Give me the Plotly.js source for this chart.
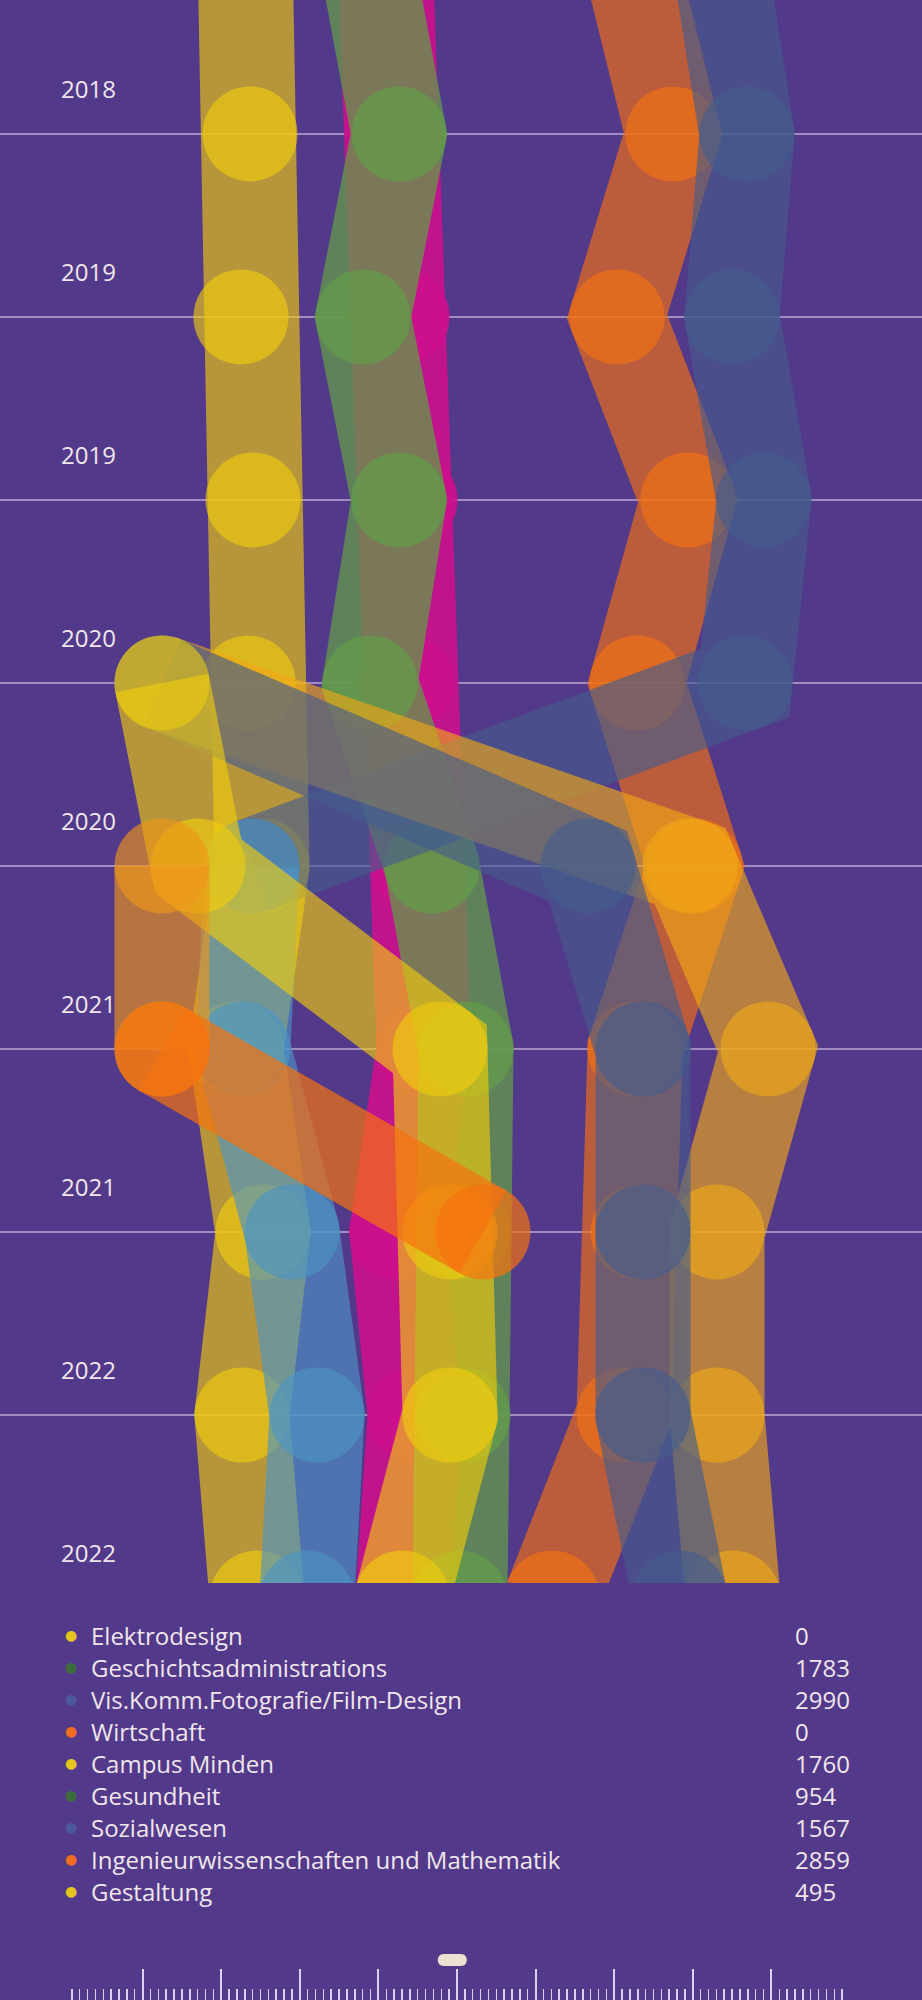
<!DOCTYPE html>
<html>
<head>
<meta charset="utf-8">
<script src="https://cdn.plot.ly/plotly-3.0.1.min.js"></script>
<style>
  html, body { margin: 0; padding: 0; background: #53398a; }
  #chart { width: 922px; height: 2000px; }
</style>
</head>
<body>
<div id="chart"></div>
<script>
// row labels (one per grid line), row 0 sits just above the top edge
var rowLabels = ['2018', '2019', '2019', '2020', '2020', '2021', '2021', '2022', '2022']
var rowIndex = [1, 2, 3, 4, 5, 6, 7, 8, 9]

// stream positions: rows and horizontal position per row
var magentaRows = [0, 1, 2, 3, 4, 5, 6, 7, 8, 9]
var magentaX = [385, 395, 402, 410, 406, 420, 424, 397, 415, 403]
var greenRows = [0, 1, 2, 3, 4, 5, 6, 7, 8, 9]
var greenX = [365, 399, 363, 399, 370, 432, 466, 463, 463, 460]
var yellowRows = [0, 1, 2, 3, 4, 5, 6, 7, 8, 9]
var yellowX = [245, 250, 241, 253, 248, 262, 236, 263, 242, 257]
var orangeRows = [0, 1, 2, 3, 4, 5, 6, 7, 8, 9]
var orangeX = [628, 673, 617, 688, 637, 695, 635, 638, 624, 552]
var slateRows = [0, 1, 2, 3, 4, 5]
var slateX = [718, 747, 732, 764, 745, 252]
var lightBlueRows = [5, 6, 7, 8, 9]
var lightBlueX = [252, 243, 292, 317, 307]
var amberRows = [4, 5, 6, 7, 8, 9]
var amberX = [162, 690, 768, 717, 717, 733]
var slateLowRows = [4, 5, 6, 7, 8, 9]
var slateLowX = [162, 588, 643, 643, 643, 680]
var yellowMidRows = [4, 5, 6, 7, 8, 9]
var yellowMidX = [162, 198, 440, 450, 450, 402]
var brownRows = [5, 6]
var brownX = [162, 162]
var orangeLowRows = [6, 7]
var orangeLowX = [162, 483]

// legend
var legendNames = ['Elektrodesign', 'Geschichtsadministrations', 'Vis.Komm.Fotografie/Film-Design', 'Wirtschaft',
    'Campus Minden', 'Gesundheit', 'Sozialwesen', 'Ingenieurwissenschaften und Mathematik', 'Gestaltung']
var legendValues = [0, 1783, 2990, 0, 1760, 954, 1567, 2859, 495]
var legendColors = ['#e6c41e', '#3c6e3c', '#4a5a98', '#f06c20', '#e6c41e', '#3c6e3c', '#4a5a98', '#f06c20', '#e6c41e']

// slider
var sliderValue = 49.4

var bg = '#53398a'
var textColor = '#efe6ea'
var W = 922, H = 2000

function stream(rows, xs, rgb, alpha) {
    var col = 'rgba(' + rgb.join(',') + ',' + alpha + ')'
    return {
        type: 'scatter',
        mode: 'lines+markers',
        x: xs,
        y: rows,
        line: {color: col, width: 95},
        marker: {color: col, size: 95, line: {width: 0}},
        hoverinfo: 'skip',
        showlegend: false
    }
}

var data = [
    stream(magentaRows, magentaX, [205, 15, 140], 0.9),
    stream(greenRows, greenX, [99, 155, 73], 0.75),
    stream(yellowRows, yellowX, [240, 204, 14], 0.64),
    stream(orangeRows, orangeX, [245, 114, 16], 0.64),
    stream(slateRows, slateX, [69, 92, 141], 0.64),
    stream(lightBlueRows, lightBlueX, [77, 148, 197], 0.64),
    stream(amberRows, amberX, [240, 167, 22], 0.64),
    stream(slateLowRows, slateLowX, [69, 92, 141], 0.64),
    stream(yellowMidRows, yellowMidX, [240, 204, 14], 0.64),
    stream(brownRows, brownX, [238, 150, 25], 0.64),
    stream(orangeLowRows, orangeLowX, [245, 114, 16], 0.7),
    {type: 'scatter', x: [], y: [], xaxis: 'x3', yaxis: 'y3', showlegend: false, hoverinfo: 'skip'}
]

var labelOffset = 0.25   // year label sits a quarter row above its line
var annotations = []
for (i = 0; i < rowLabels.length; i++) {
    annotations.push({
        x: 59, y: rowIndex[i] - labelOffset, xref: 'x', yref: 'y',
        xanchor: 'left', yanchor: 'middle', showarrow: false,
        text: rowLabels[i], font: {family: 'Open Sans', size: 24, color: textColor}
    })
}
for (i = 0; i < legendNames.length; i++) {
    var py = 1 - (1635 + 32 * i) / H
    annotations.push({
        x: 71 / W, y: py, xref: 'paper', yref: 'paper', xanchor: 'center', yanchor: 'middle',
        showarrow: false, text: '●', font: {family: 'DejaVu Sans', size: 14, color: legendColors[i]}
    })
    annotations.push({
        x: 89 / W, y: py, xref: 'paper', yref: 'paper', xanchor: 'left', yanchor: 'middle',
        showarrow: false, text: legendNames[i], font: {family: 'Open Sans', size: 24, color: textColor}
    })
    annotations.push({
        x: 793 / W, y: py, xref: 'paper', yref: 'paper', xanchor: 'left', yanchor: 'middle',
        showarrow: false, text: String(legendValues[i]), font: {family: 'Open Sans', size: 24, color: textColor}
    })
}

var layout = {
    width: W,
    height: H,
    margin: {t: 0, l: 0, r: 0, b: 0, pad: 0},
    paper_bgcolor: bg,
    plot_bgcolor: bg,
    showlegend: false,
    xaxis: {
        domain: [0, 1],
        range: [0, W],
        visible: false,
        fixedrange: true
    },
    yaxis: {
        domain: [1 - 1583 / H, 1],
        range: [8.918, 0.268],
        tickvals: rowIndex,
        showticklabels: false,
        showgrid: true,
        gridcolor: 'rgb(160,140,192)',
        gridwidth: 2,
        zeroline: false,
        showline: false,
        ticks: ''
    },
    xaxis3: {
        domain: [64 / W, 850 / W],
        range: [0, 100],
        anchor: 'y3',
        showgrid: false,
        zeroline: false,
        showline: false,
        showticklabels: false,
        ticks: 'inside',
        tick0: 0,
        dtick: 10,
        ticklen: 31,
        tickwidth: 2,
        tickcolor: 'rgb(222,208,236)',
        minor: {ticks: 'inside', tick0: 0, dtick: 1, ticklen: 11, tickwidth: 1.5, tickcolor: 'rgb(222,208,236)'}
    },
    yaxis3: {
        domain: [0, 60 / H],
        range: [0, 60],
        anchor: 'x3',
        visible: false
    },
    shapes: [{
        type: 'path',
        xref: 'x3', yref: 'y3',
        xsizemode: 'pixel', ysizemode: 'pixel',
        xanchor: sliderValue, yanchor: 40,
        path: 'M -8.5 -6 L 8.5 -6 C 16.5 -6 16.5 6 8.5 6 L -8.5 6 C -16.5 6 -16.5 -6 -8.5 -6 Z',
        fillcolor: '#ece2d2',
        line: {width: 0}
    }],
    annotations: annotations
}

Plotly.newPlot('chart', data, layout, {displayModeBar: false, staticPlot: true})
</script>
</body>
</html>
